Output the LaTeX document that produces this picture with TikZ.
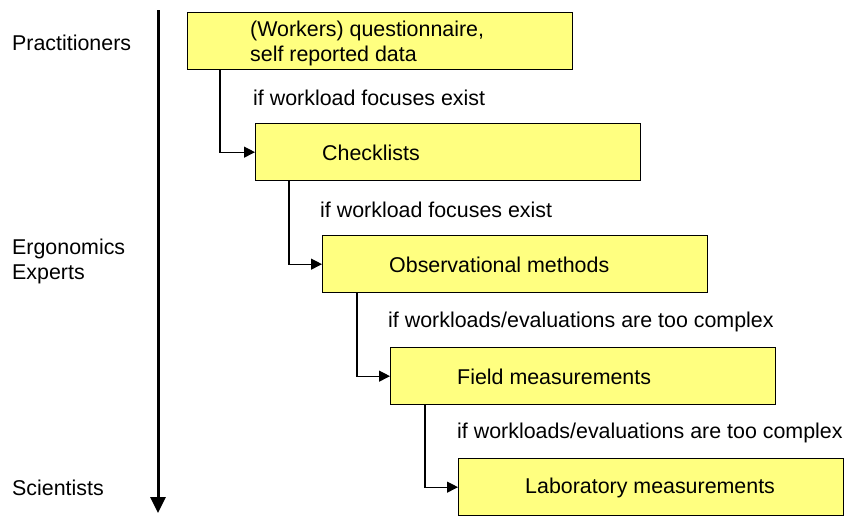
\documentclass[tikz,border=0pt]{standalone}
\usepackage{fontspec}
\setmainfont{Liberation Sans}
\usetikzlibrary{arrows.meta,calc}
\definecolor{boxyellow}{RGB}{255,255,128}
\begin{document}
\begin{tikzpicture}[x=1pt,y=-1pt,
  stepbox/.style={draw=black, line width=1.3pt, fill=boxyellow, minimum width=385pt, minimum height=57pt, inner sep=0pt, anchor=north west},
  txt/.style={font=\fontsize{21.4}{25}\selectfont, inner sep=0pt, anchor=west, align=left},
  conn/.style={line width=1.2pt, -{Triangle[length=11pt,width=11pt]}},
  axis/.style={line width=3pt, -{Triangle[length=16pt,width=15pt]}}]
\useasboundingbox (0,0) rectangle (846,515);
\fill[white] (0,0) rectangle (846,515);

% time/expertise axis
\coordinate (atop) at (158,10);
\coordinate (abot) at (158,513);
\draw[axis] (atop) -- (abot);

% left labels
\node[txt] (lp) at (12,43) {Practitioners};
\node[txt] (le) at (12,261) {Ergonomics\\Experts};
\node[txt] (ls) at (12,488) {Scientists};

% boxes
\node[stepbox] (b1) at (187,12) {};
\node[stepbox] (b2) at (255,123) {};
\node[stepbox] (b3) at (322,235) {};
\node[stepbox] (b4) at (390,347) {};
\node[stepbox] (b5) at (458,458) {};

% box texts
\node[txt] (t1) at ($(b1.west)+(63,2)$) {(Workers) questionnaire,\\self reported data};
\node[txt] (t2) at ($(b2.west)+(67,1)$) {Checklists};
\node[txt] (t3) at ($(b3.west)+(67,1)$) {Observational methods};
\node[txt] (t4) at ($(b4.west)+(67,1)$) {Field measurements};
\node[txt] (t5) at ($(b5.west)+(67,1)$) {Laboratory measurements};

% connectors
\draw[conn] ([xshift=33pt]b1.south west) |- (b2.west);
\draw[conn] ([xshift=34pt]b2.south west) |- (b3.west);
\draw[conn] ([xshift=35pt]b3.south west) |- (b4.west);
\draw[conn] ([xshift=35pt]b4.south west) |- (b5.west);

% conditions
\node[txt] (c1) at (253,98) {if workload focuses exist};
\node[txt] (c2) at (320,210) {if workload focuses exist};
\node[txt] (c3) at (388,322) {if workloads/evaluations are too complex};
\node[txt] (c4) at (457,433) {if workloads/evaluations are too complex};
\end{tikzpicture}
\end{document}
